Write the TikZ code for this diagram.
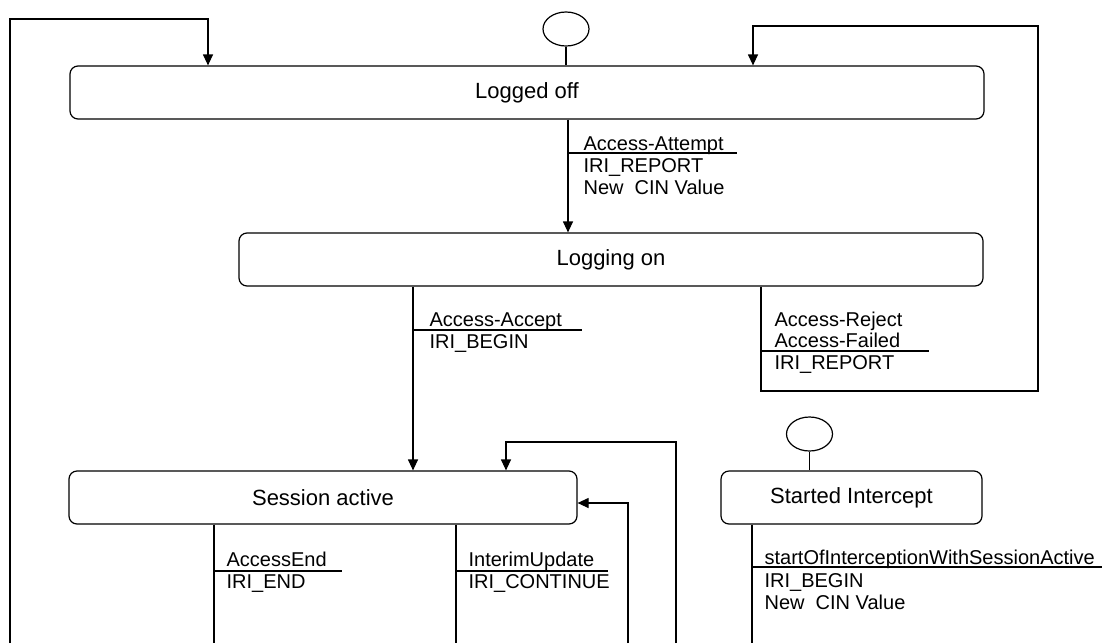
\documentclass[tikz,border=0pt]{standalone}
\usepackage{fontspec}
\setmainfont{Liberation Sans}
\usetikzlibrary{arrows.meta,shapes.geometric}
\begin{document}
\begin{tikzpicture}[x=1pt,y=-1pt,
  line width=1.2pt,
  state/.style={draw, rounded corners=8pt, minimum height=53pt, inner sep=0pt, font=\fontsize{22}{24}\selectfont},
  initstate/.style={draw, ellipse, minimum width=46pt, minimum height=34pt, inner sep=0pt},
  arr/.style={-{Triangle[length=11pt,width=10pt]}},
  lbl/.style={anchor=base west, inner sep=0pt, font=\fontsize{20}{22}\selectfont}
]
\useasboundingbox (0,0) rectangle (1102,643);

% states
\node[state, minimum width=914pt] (off) at (527,92.5) {Logged off};
\node[state, minimum width=744pt] (on) at (611,259.5) {Logging on};
\node[state, minimum width=508pt] (sa) at (323,497.5) {Session active};
\node[state, minimum width=261pt] (si) at (851.5,497.5) {Started Intercept};
\node[initstate] (i1) at (566,29) {};
\node[initstate] (i2) at (809.5,434) {};
\draw (i1) -- (off.north -| i1);
\draw (i2) -- (si.north -| i2);

% Access-Attempt
\coordinate (xatt) at (568,0);
\draw[arr] (off.south -| xatt) -- (on.north -| xatt);
\node[lbl] (att1) at (583,150) {Access-Attempt};
\node[lbl] (att2) at (583,172) {IRI\_REPORT};
\node[lbl] (att3) at (583,194) {New\ \ CIN Value};
\draw (568,153) -- (737,153);

% Access-Accept
\coordinate (xacc) at (413,0);
\draw[arr] (on.south -| xacc) -- (sa.north -| xacc);
\node[lbl] (acc1) at (429,326) {Access-Accept};
\node[lbl] (acc2) at (429,348) {IRI\_BEGIN};
\draw (413,330) -- (582,330);

% Access-Reject loop
\coordinate (xrej) at (761,0);
\coordinate (rj1) at (1038,391);
\coordinate (rj2) at (753,26);
\draw[arr] (on.south -| xrej) |- (rj1) |- (rj2) -- (off.north -| rj2);
\node[lbl] (rej1) at (774,326) {Access-Reject};
\node[lbl] (rej2) at (774,347) {Access-Failed};
\node[lbl] (rej3) at (774,369) {IRI\_REPORT};
\draw (761,351) -- (929,351);

% left loop into Logged off
\coordinate (lb) at (10,643);
\coordinate (lt) at (208,19);
\draw[arr] (lb) |- (lt) -- (off.north -| lt);

% AccessEnd
\coordinate (xend) at (214,643);
\draw (sa.south -| xend) -- (xend);
\node[lbl] (end1) at (226,566) {AccessEnd};
\node[lbl] (end2) at (226,588) {IRI\_END};
\draw (214,571) -- (342,571);

% InterimUpdate
\coordinate (xiu) at (456,643);
\draw (sa.south -| xiu) -- (xiu);
\node[lbl] (iu1) at (468,566) {InterimUpdate};
\node[lbl] (iu2) at (468,588) {IRI\_CONTINUE};
\draw (456,571) -- (608,571);

% loops into Session active
\coordinate (lp1) at (676,643);
\coordinate (lp2) at (506,442);
\draw[arr] (lp1) |- (lp2) -- (sa.north -| lp2);
\coordinate (ra) at (628,643);
\coordinate (ray) at (0,503);
\draw[arr] (ra) |- (sa.east |- ray);

% Started Intercept transition
\coordinate (xs) at (752,643);
\draw (si.south -| xs) -- (xs);
\node[lbl] (st1) at (764,564) {startOfInterceptionWithSessionActive};
\node[lbl] (st2) at (764,587) {IRI\_BEGIN};
\node[lbl] (st3) at (764,609) {New\ \ CIN Value};
\draw (752,567) -- (1102,567);
\end{tikzpicture}
\end{document}
